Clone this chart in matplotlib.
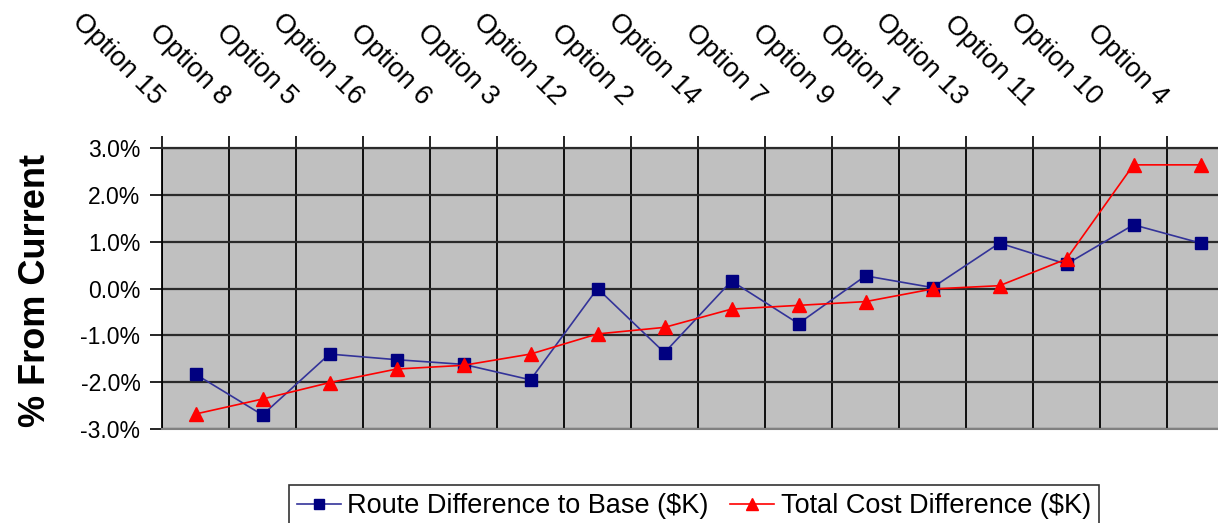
import matplotlib
matplotlib.use('Agg')
import matplotlib.pyplot as plt
from matplotlib.ticker import FuncFormatter, FixedLocator

plt.rcParams['font.family'] = ['Liberation Sans', 'DejaVu Sans']

options = ['Option 15', 'Option 8', 'Option 5', 'Option 16', 'Option 6', 'Option 3',
           'Option 12', 'Option 2', 'Option 14', 'Option 7', 'Option 9', 'Option 1',
           'Option 13', 'Option 11', 'Option 10', 'Option 4']
route_diff = [-1.83, -2.70, -1.40, -1.52, -1.62, -1.95, 0.00, -1.37,
              0.16, -0.75, 0.27, 0.02, 0.97, 0.52, 1.36, 0.97]
total_cost = [-2.68, -2.36, -2.01, -1.72, -1.64, -1.40, -0.97, -0.83,
              -0.44, -0.36, -0.28, -0.01, 0.06, 0.63, 2.64, 2.64]

W, H = 1218, 523
fig = plt.figure(figsize=(W / 100, H / 100), dpi=100)
ax = fig.add_axes([162 / W, 1 - 429 / H, (1234 - 162) / W, (429 - 148) / H])
ax.set_facecolor('#c0c0c0')

x = list(range(len(options)))
ax.plot(x, route_diff, color='#333399', lw=1.2, marker='s', ms=8,
        mfc='#000080', mec='#000080', label='Route Difference to Base ($K)', zorder=3)
ax.plot(x, total_cost, color='#ff0000', lw=1.2, marker='^', ms=9.5,
        mfc='#ff0000', mec='#ff0000', label='Total Cost Difference ($K)', zorder=4)

ax.set_xlim(-0.5, len(options) - 0.5)
ax.set_ylim(-3, 3)
ax.set_yticks([-3, -2, -1, 0, 1, 2, 3])
ax.yaxis.set_major_formatter(FuncFormatter(lambda v, p: '%.1f%%' % v))
ax.tick_params(axis='y', labelsize=16.5, length=9, width=1.2, direction='out', pad=6.5)

# category boundaries on top axis
ax.xaxis.tick_top()
ax.xaxis.set_major_locator(FixedLocator([i - 0.5 for i in range(len(options) + 1)]))
ax.tick_params(axis='x', labeltop=False, length=9, width=1.2, direction='out')
ax.grid(True, axis='x', color='black', lw=1.3)
ax.grid(True, axis='y', color='#2a2a2a', lw=1.6)
ax.set_axisbelow(True)

ax.spines['right'].set_visible(False)
ax.spines['bottom'].set_color('#808080')
ax.spines['bottom'].set_linewidth(1.5)
ax.spines['top'].set_color('#2a2a2a')
ax.spines['top'].set_linewidth(1.6)
ax.spines['left'].set_linewidth(1.3)

for i, name in enumerate(options):
    ax.annotate(name, xy=(i, 1), xycoords=('data', 'axes fraction'),
                xytext=(-33, 27), textcoords='offset points',
                rotation=-45, rotation_mode='anchor', ha='right', va='bottom',
                fontsize=19.5)

fig.text(36 / W, 1 - 290 / H, '% From Current', rotation=90, fontsize=26,
         fontweight='bold', ha='center', va='center')

leg = fig.legend(loc='upper center', bbox_to_anchor=(694 / W, 1 - 485 / H), ncol=2,
                 fontsize=19.5, frameon=True, fancybox=False, edgecolor='black',
                 handlelength=1.6, handletextpad=0.25, columnspacing=0.8,
                 borderpad=0.3, borderaxespad=0, markerscale=0.85)
leg.get_frame().set_linewidth(1.2)

fig.savefig('out.png', dpi=100)
